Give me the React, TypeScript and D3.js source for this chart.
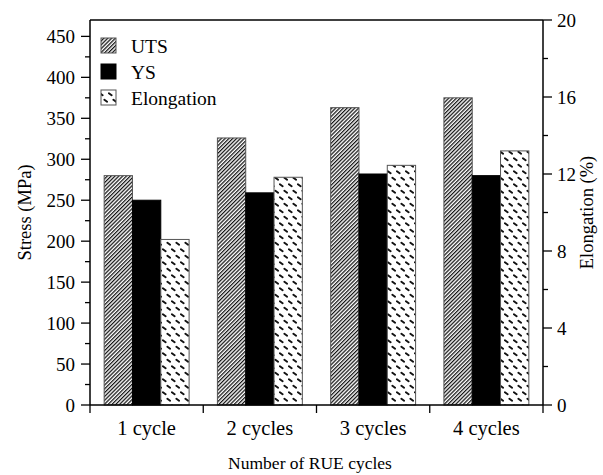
import React from "react";
import * as d3 from "d3";

const categories = ["1 cycle", "2 cycles", "3 cycles", "4 cycles"];
const utsValues = [280, 326, 363, 375];
const ysValues = [250, 259, 282, 280];
const elongValues = [8.6, 11.83, 12.45, 13.2];
const leftTicks = [0, 50, 100, 150, 200, 250, 300, 350, 400, 450];
const rightTicks = [0, 4, 8, 12, 16, 20];
const seriesNames = ["UTS", "YS", "Elongation"];

const W = 603;
const H = 475;
const L = 90;
const R = 543;
const T = 20;
const B = 405;
const FONT = "Liberation Serif";

const txt: React.CSSProperties = { fontFamily: "'Liberation Serif', 'DejaVu Serif', serif" };

export default function App() {
  const x = d3.scaleBand<string>().domain(categories).range([L, R]).paddingInner(0).paddingOuter(0);
  const yL = d3.scaleLinear().domain([0, 470]).range([B, T]);
  const yR = d3.scaleLinear().domain([0, 20]).range([B, T]);
  const bw = x.bandwidth() * 0.25;
  const off = x.bandwidth() * 0.125;

  const leftMinor = d3.range(25, 470, 50);
  const rightMinor = d3.range(2, 20, 4);
  const xTickPos = d3.range(0, categories.length + 1).map((i) => L + i * x.bandwidth());

  const fills = ["url(#hatch)", "#000", "url(#dash)"];
  const strokes = ["#555", "#000", "#555"];

  return (
    <svg width={W} height={H} style={{ position: "absolute", left: 0, top: 0, background: "#fff" }}>
      <defs>
        <pattern id="hatch" width="2.7" height="2.7" patternUnits="userSpaceOnUse" patternTransform="rotate(45)">
          <rect width="2.7" height="2.7" fill="#fff" />
          <line x1="0.6" y1="0" x2="0.6" y2="2.7" stroke="#111" strokeWidth="1.3" />
        </pattern>
        <pattern id="dash" width="9" height="13" patternUnits="userSpaceOnUse">
          <rect width="9" height="13" fill="#fff" />
          <line x1="0.9" y1="2.3" x2="3.6" y2="4.2" stroke="#111" strokeWidth="2" strokeLinecap="round" />
          <line x1="5.4" y1="8.8" x2="8.1" y2="10.7" stroke="#111" strokeWidth="2" strokeLinecap="round" />
        </pattern>
      </defs>

      {/* bars */}
      {categories.map((c, i) => {
        const x0 = (x(c) as number) + off;
        const vals = [yL(utsValues[i]), yL(ysValues[i]), yR(elongValues[i])];
        return (
          <g key={c}>
            {vals.map((yy, k) => (
              <rect
                key={k}
                x={x0 + k * bw}
                y={yy}
                width={bw}
                height={B - yy}
                fill={fills[k]}
                stroke={strokes[k]}
                strokeWidth={1}
              />
            ))}
          </g>
        );
      })}

      {/* frame */}
      <line x1={L} y1={T} x2={R} y2={T} stroke="#000" strokeWidth={1.5} />
      <line x1={L} y1={T} x2={L} y2={B} stroke="#000" strokeWidth={1.5} />
      <line x1={R} y1={T} x2={R} y2={B} stroke="#000" strokeWidth={1.5} />
      <line x1={L} y1={B} x2={R} y2={B} stroke="#000" strokeWidth={1.5} />

      {/* left axis */}
      {leftTicks.map((t) => (
        <g key={"l" + t}>
          <line x1={L - 9} x2={L} y1={yL(t)} y2={yL(t)} stroke="#000" strokeWidth={1.3} />
          <text x={L - 15} y={yL(t)} dy="0.35em" textAnchor="end" fontSize={19} fontFamily={FONT} style={txt}>
            {t}
          </text>
        </g>
      ))}
      {leftMinor.map((t) => (
        <line key={"lm" + t} x1={L - 5} x2={L} y1={yL(t)} y2={yL(t)} stroke="#000" strokeWidth={1.3} />
      ))}

      {/* right axis */}
      {rightTicks.map((t) => (
        <g key={"r" + t}>
          <line x1={R} x2={R + 9} y1={yR(t)} y2={yR(t)} stroke="#000" strokeWidth={1.3} />
          <text x={R + 14} y={yR(t)} dy="0.35em" textAnchor="start" fontSize={19} fontFamily={FONT} style={txt}>
            {t}
          </text>
        </g>
      ))}
      {rightMinor.map((t) => (
        <line key={"rm" + t} x1={R} x2={R + 5} y1={yR(t)} y2={yR(t)} stroke="#000" strokeWidth={1.3} />
      ))}

      {/* x axis ticks */}
      {xTickPos.map((p, i) => (
        <line key={"xt" + i} x1={p} x2={p} y1={B} y2={B + 8} stroke="#000" strokeWidth={1.3} />
      ))}
      {categories.map((c) => (
        <text
          key={"xl" + c}
          x={(x(c) as number) + x.bandwidth() / 2}
          y={435}
          textAnchor="middle"
          fontSize={20.5}
          fontFamily={FONT}
          style={txt}
        >
          {c}
        </text>
      ))}

      {/* axis titles */}
      <text x={310} y={469} textAnchor="middle" fontSize={17.5} fontFamily={FONT} style={txt}>
        Number of RUE cycles
      </text>
      <text
        transform={`translate(31, ${(T + B) / 2}) rotate(-90)`}
        textAnchor="middle"
        fontSize={18.5}
        fontFamily={FONT}
        style={txt}
      >
        Stress (MPa)
      </text>
      <text
        transform={`translate(593, ${(T + B) / 2}) rotate(-90)`}
        textAnchor="middle"
        fontSize={18.5}
        fontFamily={FONT}
        style={txt}
      >
        Elongation (%)
      </text>

      {/* legend */}
      {seriesNames.map((n, k) => {
        const ly = 38 + k * 26;
        return (
          <g key={"lg" + n}>
            <rect x={101} y={ly} width={15} height={15} fill={fills[k]} stroke={strokes[k]} strokeWidth={1} />
            <text x={131} y={ly + 8} dy="0.35em" fontSize={19.5} fontFamily={FONT} style={txt}>
              {n}
            </text>
          </g>
        );
      })}
    </svg>
  );
}
